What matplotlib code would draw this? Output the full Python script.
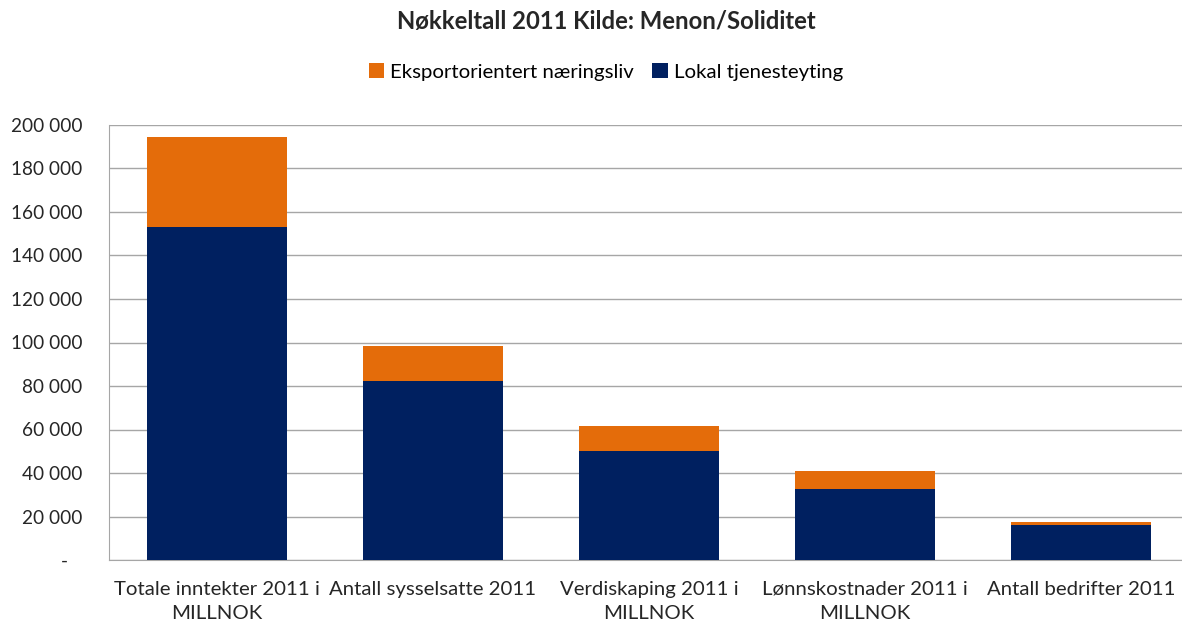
import matplotlib.pyplot as plt

categories = ['Totale inntekter 2011 i\nMILLNOK', 'Antall sysselsatte 2011',
              'Verdiskaping 2011 i\nMILLNOK', 'Lønnskostnader 2011 i\nMILLNOK',
              'Antall bedrifter 2011']
lokal = [153000, 82500, 50200, 32700, 16000]
eksport = [41600, 15700, 11600, 8400, 1400]
yticks = [0, 20000, 40000, 60000, 80000, 100000, 120000, 140000, 160000, 180000, 200000]
ytick_labels = ['-   '] + [f'{v:,}'.replace(',', ' ') for v in yticks[1:]]

plt.rcParams['font.family'] = ['Lato', 'DejaVu Sans']

orange = '#E46C0A'
navy = '#002060'
grid_col = '#A6A6A6'
text_col = '#262626'

fig = plt.figure(figsize=(11.82, 6.23), dpi=100)
ax = fig.add_axes([109 / 1182, 1 - 560 / 623, 1 - 109 / 1182, (560 - 125) / 623])

x = range(len(categories))
ax.bar(x, lokal, width=140 / 216, color=navy, label='Lokal tjenesteyting', zorder=3)
ax.bar(x, eksport, width=140 / 216, bottom=lokal, color=orange,
       label='Eksportorientert næringsliv', zorder=3)

ax.set_ylim(0, 200000)
ax.set_xlim(-0.5, 4.5 - 7 / 216)
ax.set_yticks(yticks)
ax.set_yticklabels(ytick_labels, fontsize=13.7, color=text_col)
ax.set_xticks(list(x))
ax.set_xticklabels(categories, fontsize=14.7, color=text_col, linespacing=1.5)
ax.tick_params(axis='both', length=0)
ax.tick_params(axis='y', pad=19)
ax.tick_params(axis='x', pad=15)
ax.yaxis.grid(True, color=grid_col, linewidth=1)
ax.set_axisbelow(True)
for s in ['top', 'right']:
    ax.spines[s].set_visible(False)
ax.spines['left'].set_color(grid_col)
ax.spines['bottom'].set_color(grid_col)

handles, labels = ax.get_legend_handles_labels()
fig.legend(handles[::-1], labels[::-1], loc='center', bbox_to_anchor=(606 / 1182, 1 - 72 / 623),
           ncol=2, frameon=False, fontsize=14.7, handlelength=0.75, handleheight=0.75,
           handletextpad=0.3, columnspacing=0.9)
fig.text(606 / 1182, 1 - 22 / 623, 'Nøkkeltall 2011 Kilde: Menon/Soliditet', ha='center',
         va='center', fontsize=17.2, fontweight='bold', color=text_col)

fig.savefig('out.png', dpi=100)
